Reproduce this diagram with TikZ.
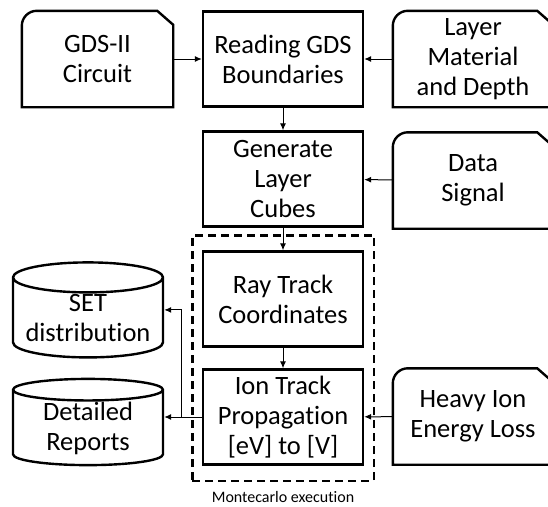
\documentclass[tikz,border=0pt]{standalone}
\usepackage{fontspec}
\setmainfont{Carlito}[Ligatures=NoCommon]
\usetikzlibrary{positioning,fit,shapes.geometric,arrows.meta}

\begin{document}
\begin{tikzpicture}
[x=1pt,y=-1pt,>={Latex[length=7pt,width=6pt]}]
\tikzset{
	every node/.style = {font=\fontsize{26.5}{30}\selectfont, align=center},
	process/.style = {draw, line width=2.4pt, minimum width=160pt, minimum height=95pt, inner sep=0pt},
	card/.style = {minimum width=151pt, minimum height=96pt, inner sep=0pt},
	store/.style = {cylinder, draw, line width=2.4pt, shape border rotate=90, aspect=0.24, minimum width=150pt, inner sep=0pt},
	link/.style = {->, line width=1pt}
}
\useasboundingbox (0,0) rectangle (548,506);

% main flow
\node (read) [process] at (283,59) {Reading GDS\\Boundaries};
\node (cubes) [process, below=22.6pt of read] {Generate\\Layer\\Cubes};
\node (ray) [process, below=22.6pt of cubes] {Ray Track\\Coordinates};
\node (ion) [process, below=20.6pt of ray] {Ion Track\\Propagation\\{}[eV] to [V]};

% inputs
\node (gds) [card] at (97.5,59) {GDS-II\\Circuit};
\node (layer) [card, minimum width=160pt] at (473,59) {Layer\\Material\\and Depth};
\node (data) [card, minimum width=160pt] at (473,180.5) {Data\\Signal};
\node (heavy) [card, minimum width=160pt] at (473,416.5) {Heavy Ion\\Energy Loss};
\foreach \c in {gds,layer,data,heavy}
	\draw [line width=2.4pt] (\c.south west) [rounded corners=15pt] -- (\c.north west) [sharp corners]
		-- ([xshift=-16pt]\c.north east) -- ([yshift=-14pt]\c.north east) -- (\c.south east) -- cycle;

% outputs
\node (set) [store, minimum height=95pt] at (88,318) {SET\\distribution};
\node (det) [store, minimum height=85pt] at (88,428) {Detailed\\Reports};

% montecarlo loop
\node (mc) [fit=(ray)(ion), inner xsep=9.5pt, inner ysep=15pt, draw, line width=2.4pt, dash pattern=on 8pt off 5pt] {};
\node (mclabel) [below=9pt of mc, inner sep=0pt, font=\fontsize{16}{18}\selectfont] {Montecarlo execution};

\draw [link] (gds) -- (read);
\draw [link] (layer) -- (read);
\draw [link] (read) -- (cubes);
\draw [link] (data) -- (cubes);
\draw [link] (cubes) -- (ray);
\draw [link] (ray) -- (ion);
\draw [link] (heavy) -- (ion);
\coordinate (split) at ([xshift=-20pt]ion.west);
\draw [link] (ion.west) -- (split) |- (set.east |- set.shape center);
\draw [link] (split) -- (split -| det.east);
\end{tikzpicture}
\end{document}
